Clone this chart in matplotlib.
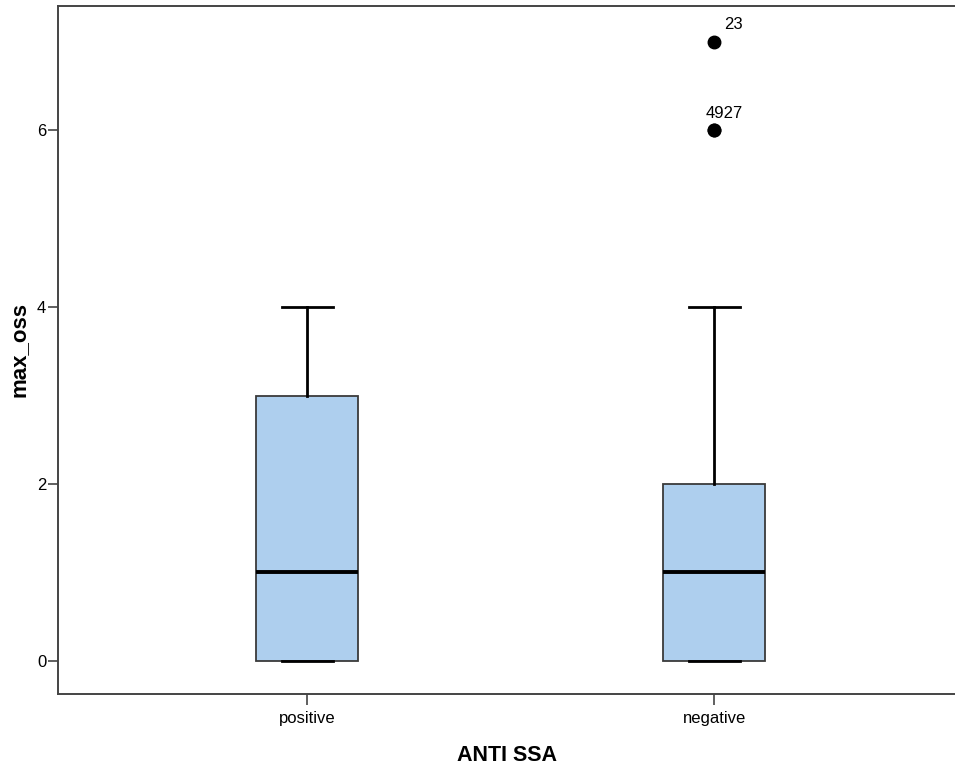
import matplotlib.pyplot as plt

plt.rcParams['font.family'] = ['Liberation Sans', 'DejaVu Sans']

# Summary statistics for max_oss by ANTI SSA group
groups = ["positive", "negative"]
whisker_low = [0, 0]
q1 = [0, 0]
medians = [1, 1]
q3 = [3, 2]
whisker_high = [4, 4]
outlier_values = [[], [7, 6, 6]]
outlier_ids = [[], ["23", "49", "27"]]

stats = []
for i, name in enumerate(groups):
    stats.append({
        "label": name,
        "whislo": whisker_low[i],
        "q1": q1[i],
        "med": medians[i],
        "q3": q3[i],
        "whishi": whisker_high[i],
        "fliers": outlier_values[i],
    })

fig = plt.figure(figsize=(9.55, 7.69), dpi=100)
ax = fig.add_axes([58 / 955, 1 - 694 / 769, 1 - 58 / 955, (694 - 5.5) / 769])

positions = list(range(len(groups)))
ax.bxp(
    stats,
    positions=positions,
    widths=0.25,
    patch_artist=True,
    showfliers=True,
    boxprops=dict(facecolor="#aecfee", edgecolor="#3a3a3a", linewidth=1.3),
    medianprops=dict(color="black", linewidth=2.8, solid_capstyle="butt"),
    whiskerprops=dict(color="black", linewidth=2.0),
    capprops=dict(color="black", linewidth=2.0),
    capwidths=0.125,
    flierprops=dict(marker="o", markerfacecolor="black", markeredgecolor="black",
                    markersize=9, linestyle="none"),
)

# Case labels beside the outliers; ids of tied points run together
for i, (vals, ids) in enumerate(zip(outlier_values, outlier_ids)):
    seen = {}
    for v, lab in zip(vals, ids):
        seen.setdefault(v, []).append(lab)
    for v, labs in seen.items():
        ax.annotate("".join(labs), (positions[i], v), xytext=(20.5, 9),
                    textcoords="offset points", fontsize=12, ha="right")

ax.set_xlim(-0.612, 1.592)
ax.set_ylim(-0.373, 7.407)
ax.set_yticks([0, 2, 4, 6])
ax.set_xticks(positions)
ax.set_xticklabels(groups)

for side in ["left", "bottom", "top"]:
    ax.spines[side].set_color("#444444")
    ax.spines[side].set_linewidth(1.4)
ax.spines["right"].set_visible(False)

ax.tick_params(axis="both", colors="#444444", labelcolor="black", labelsize=12, width=1.2)
ax.tick_params(axis="y", length=7, pad=1.5)
ax.tick_params(axis="x", length=8, pad=4)

ax.set_xlabel("ANTI SSA", fontsize=15.5, fontweight="bold", labelpad=14)
ax.set_ylabel("max_oss", fontsize=16, fontweight="bold", labelpad=5)

fig.savefig("out.png", dpi=100)
